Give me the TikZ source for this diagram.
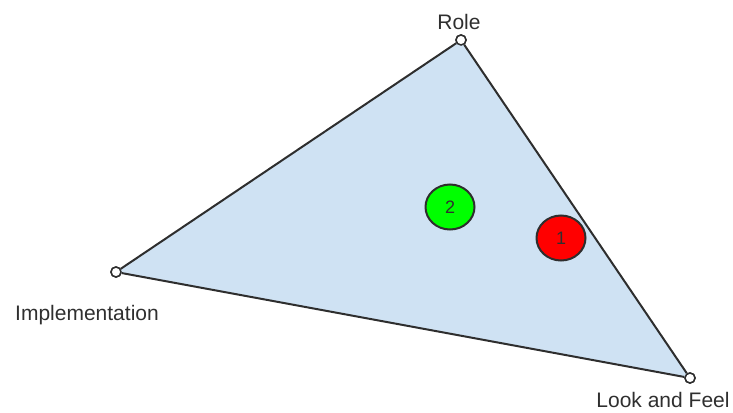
\documentclass[tikz,border=0pt]{standalone}
\usepackage{fontspec}
\setmainfont{Liberation Sans}
\usetikzlibrary{shapes.geometric}

\definecolor{areablue}{HTML}{CFE2F3}
\definecolor{edgegray}{HTML}{2E2E2E}
\definecolor{textgray}{HTML}{2F2F2F}

\begin{document}
\begin{tikzpicture}[
    x=0.5pt, y=-0.5pt,
    corner/.style={circle, draw=edgegray, fill=white, line width=0.75pt, inner sep=0pt, minimum size=5pt},
    edge/.style={draw=edgegray, line width=1pt},
    label/.style={text=textgray, font=\fontsize{10.5}{12}\selectfont},
    marker/.style={ellipse, draw=edgegray, line width=1pt, minimum width=24.5pt, minimum height=22.5pt, inner sep=0pt, text=textgray, font=\fontsize{9}{10}\selectfont}
]
\useasboundingbox (0,0) rectangle (733,412);

% Corners
\node[corner] (role) at (461,40) {};
\node[corner] (impl) at (116,272) {};
\node[corner] (laf) at (690,378) {};

% Area and sides
\fill[areablue] (role.center) -- (laf.center) -- (impl.center) -- cycle;
\draw[edge] (impl) -- (role);
\draw[edge] (role) -- (laf);
\draw[edge] (laf) -- (impl);
\node[corner] at (role) {};
\node[corner] at (impl) {};
\node[corner] at (laf) {};

% Labels
\node[label] (rolelbl) at (459,22) {Role};
\node[label] (impllbl) at (87,315) {Implementation};
\node[label] (laflbl) at (663,400) {Look and Feel};

% Markers
\node[marker, fill=green] (two) at (450,207) {2};
\node[marker, fill=red] (one) at (561,238) {1};

\end{tikzpicture}
\end{document}
